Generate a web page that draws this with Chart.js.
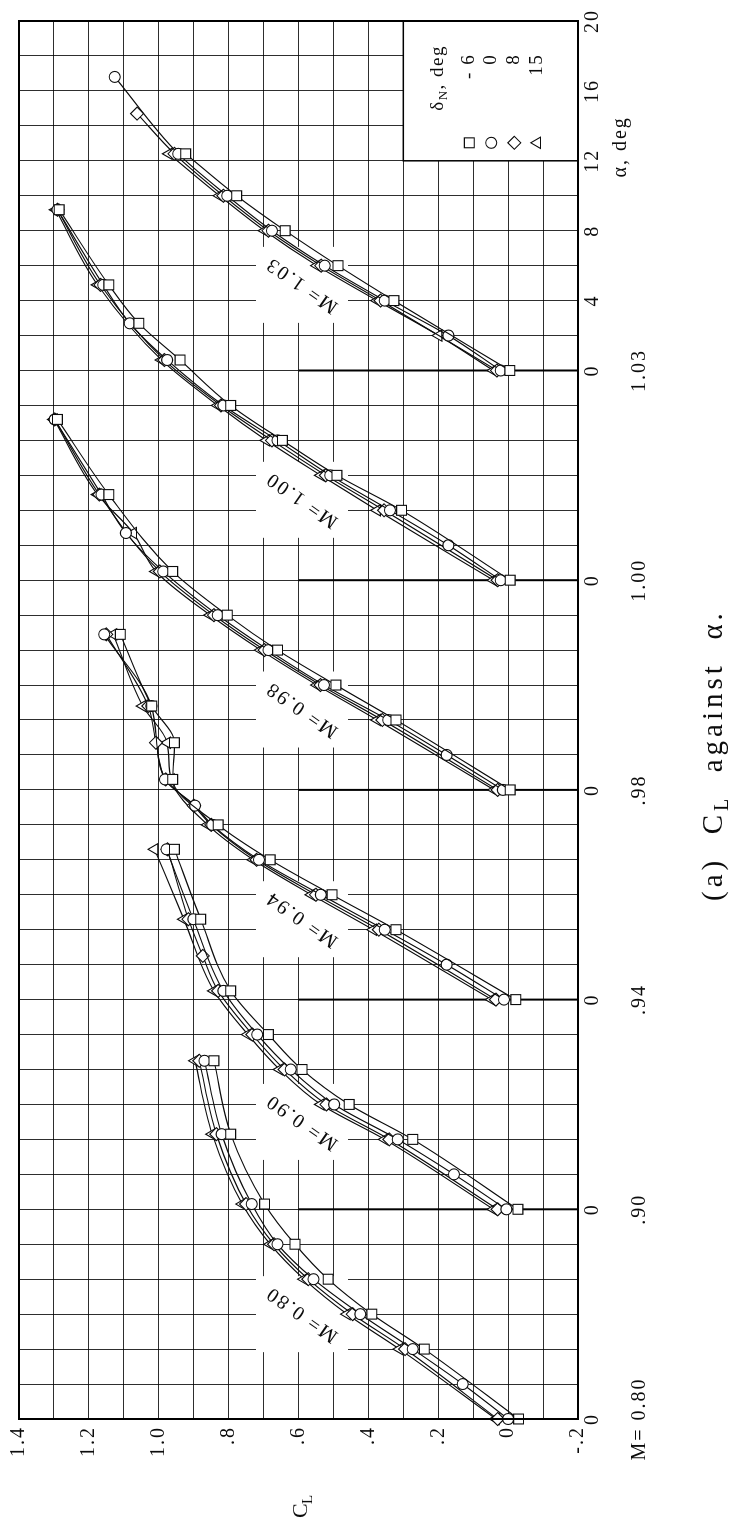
<!DOCTYPE html>
<html lang="en">
<head>
<meta charset="utf-8">
<title>(a) CL against alpha</title>
<script src="https://cdn.jsdelivr.net/npm/chart.js@4.4.1/dist/chart.umd.min.js"></script>
<style>
  html, body { margin:0; padding:0; background:#fff; width:733px; height:1521px; overflow:hidden; }
  #rot { position:absolute; left:0; top:0; width:1521px; height:733px; transform-origin:0 0; transform:translateY(1521px) rotate(-90deg); background:#fff; }
  #chart { display:block; width:1521px; height:733px; }
</style>
</head>
<body>
<div id="rot"><canvas id="chart" width="1521" height="733"></canvas></div>
<script>
// ---------------- data (alpha in deg, CL) ----------------
const machAxisLabels  = ["M= 0.80", ".90", ".94", ".98", "1.00", "1.03"];
const machCurveLabels = ["M= 0.80", "M= 0.90", "M= 0.94", "M= 0.98", "M= 1.00", "M= 1.03"];
const alphaOrigins    = [0, 12, 24, 36, 48, 60];     // staggered alpha = 0 origins on the shared axis
const alphaExtraTicks = [4, 8, 12, 16, 20];          // alpha ticks labelled for M = 1.03
const clTickValues    = [1.4, 1.2, 1.0, 0.8, 0.6, 0.4, 0.2, 0, -0.2];
const clTickLabels    = ["1.4", "1.2", "1.0", ".8", ".6", ".4", ".2", "0", "-.2"];
const deltaNLabels    = ["- 6", "0", "8", "15"];

// M = 0.80
const m080_dm6 = [[0,-0.03],[4,0.24],[6,0.39],[8,0.515],[10,0.61],[12.3,0.697],[16.3,0.794],[20.5,0.842]];
const m080_d0  = [[0,0.0],[2,0.13],[4,0.273],[6,0.423],[8,0.557],[10,0.66],[12.3,0.734],[16.3,0.82],[20.5,0.869]];
const m080_d8  = [[0,0.03],[4,0.295],[6,0.445],[8,0.572],[10,0.67],[12.3,0.75],[16.3,0.835],[20.5,0.884]];
const m080_d15 = [[0,0.035],[4,0.311],[6,0.461],[8,0.584],[10,0.681],[12.3,0.761],[16.3,0.847],[20.5,0.896]];
// M = 0.90
const m090_dm6 = [[0,-0.028],[4,0.273],[6,0.455],[8,0.59],[10,0.686],[12.5,0.794],[16.6,0.88],[20.6,0.955]];
const m090_d0  = [[0,0.005],[2,0.155],[4,0.316],[6,0.498],[8,0.622],[10,0.718],[12.5,0.815],[16.6,0.901],[20.6,0.978]];
const m090_d8  = [[0,0.03],[4,0.34],[6,0.52],[8,0.64],[10,0.732],[12.5,0.83],[14.5,0.874],[16.6,0.915],[20.6,0.975]];
const m090_d15 = [[0,0.042],[4,0.353],[6,0.536],[8,0.654],[10,0.745],[12.5,0.842],[16.6,0.928],[20.6,1.012]];
// M = 0.94
const m094_dm6 = [[0,-0.022],[4,0.321],[6,0.504],[8,0.681],[10,0.83],[12.6,0.96],[14.7,0.955],[16.8,1.02],[20.9,1.11]];
const m094_d0  = [[0,0.012],[2,0.176],[4,0.353],[6,0.536],[8,0.713],[10,0.847],[11.1,0.896],[12.6,0.982],[16.8,1.021],[20.9,1.156]];
const m094_d8  = [[0,0.035],[4,0.37],[6,0.55],[8,0.72],[10,0.85],[11.1,0.9],[12.6,0.98],[14.7,1.008],[16.8,1.03],[20.9,1.15]];
const m094_d15 = [[0,0.047],[4,0.386],[6,0.563],[8,0.729],[10,0.86],[12.6,0.965],[14.7,0.976],[16.8,1.046],[20.9,1.13]];
// M = 0.98
const m098_dm6 = [[0,-0.006],[4,0.321],[6,0.493],[8,0.66],[10,0.804],[12.5,0.96],[16.9,1.143],[21.2,1.29]];
const m098_d0  = [[0,0.015],[2,0.176],[4,0.343],[6,0.527],[8,0.686],[10,0.831],[12.5,0.987],[14.7,1.094],[16.9,1.164],[21.2,1.298]];
const m098_d8  = [[0,0.03],[4,0.36],[6,0.537],[8,0.697],[10,0.842],[12.5,0.997],[16.9,1.17],[21.2,1.298]];
const m098_d15 = [[0,0.04],[4,0.375],[6,0.547],[8,0.708],[10,0.853],[12.5,1.008],[14.7,1.073],[16.9,1.175],[21.2,1.3]];
// M = 1.00
const m100_dm6 = [[0,-0.006],[4,0.305],[6,0.49],[8,0.646],[10,0.794],[12.6,0.939],[14.7,1.057],[16.9,1.143],[21.2,1.285]];
const m100_d0  = [[0,0.021],[2,0.171],[4,0.338],[6,0.509],[8,0.66],[10,0.815],[12.6,0.976],[14.7,1.083],[16.9,1.159],[21.2,1.29]];
const m100_d8  = [[0,0.03],[4,0.355],[6,0.522],[8,0.676],[10,0.822],[12.6,0.984],[16.9,1.167],[21.2,1.29]];
const m100_d15 = [[0,0.042],[4,0.375],[6,0.536],[8,0.692],[10,0.831],[12.6,0.992],[16.9,1.175],[21.2,1.295]];
// M = 1.03
const m103_dm6 = [[0,-0.005],[4,0.327],[6,0.487],[8,0.638],[10,0.777],[12.4,0.923]];
const m103_d0  = [[0,0.021],[2,0.171],[4,0.353],[6,0.525],[8,0.676],[10,0.804],[12.4,0.944],[16.8,1.126]];
const m103_d8  = [[0,0.032],[4,0.365],[6,0.535],[8,0.686],[10,0.815],[12.4,0.955],[14.7,1.062]];
const m103_d15 = [[0,0.042],[2,0.199],[4,0.375],[6,0.547],[8,0.697],[10,0.826],[12.4,0.971]];

const seriesByMach = [
  [m080_dm6, m080_d0, m080_d8, m080_d15],
  [m090_dm6, m090_d0, m090_d8, m090_d15],
  [m094_dm6, m094_d0, m094_d8, m094_d15],
  [m098_dm6, m098_d0, m098_d8, m098_d15],
  [m100_dm6, m100_d0, m100_d8, m100_d15],
  [m103_dm6, m103_d0, m103_d8, m103_d15]
];

// ---------------- styles ----------------
const FONT = '"Liberation Serif", "DejaVu Serif", serif';
const INK = '#0c0c0c';
const GRID = 'rgba(0,0,0,0.82)';
const pointStyles = ['rect', 'circle', 'rectRot', 'triangle'];
const pointRadii  = [7, 5.5, 6.5, 6.5];
const curveLabelAlpha = [6.0, 5.0, 4.6, 4.6, 4.6, 4.9];
const curveLabelCL = 0.59;

const datasets = [];
seriesByMach.forEach((group, mi) => {
  group.forEach((pts, di) => {
    datasets.push({
      label: machCurveLabels[mi] + ' dN=' + deltaNLabels[di],
      data: pts.map(p => ({ x: p[0] + alphaOrigins[mi], y: p[1] })),
      showLine: true,
      borderColor: INK,
      borderWidth: 1.15,
      cubicInterpolationMode: 'monotone',
      pointStyle: pointStyles[di],
      pointRadius: pointRadii[di],
      pointBorderWidth: 1.1,
      pointBorderColor: INK,
      pointBackgroundColor: '#fff',
      clip: false
    });
  });
});

const alphaTickMap = new Map();
alphaOrigins.forEach(o => alphaTickMap.set(o, '0'));
alphaExtraTicks.forEach(a => alphaTickMap.set(alphaOrigins[5] + a, String(a)));

function spaced(ctx, px) { if ('letterSpacing' in ctx) ctx.letterSpacing = px + 'px'; }

const decor = {
  id: 'decor',
  beforeDraw(chart) {
    spaced(chart.ctx, 2);   // typewriter-like spacing for axis tick labels
  },
  beforeDatasetsDraw(chart) {
    const { ctx, chartArea: ca, scales: { x, y } } = chart;
    ctx.save();
    // heavier alpha = 0 reference lines
    ctx.strokeStyle = '#000';
    ctx.lineWidth = 2;
    alphaOrigins.forEach(o => {
      if (o === 0) return;
      const px = x.getPixelForValue(o);
      ctx.beginPath();
      ctx.moveTo(px, y.getPixelForValue(0.6));
      ctx.lineTo(px, ca.bottom);
      ctx.stroke();
    });
    // curve labels on white patches
    ctx.font = '20px ' + FONT;
    spaced(ctx, 2);
    machCurveLabels.forEach((t, i) => {
      const cx = x.getPixelForValue(alphaOrigins[i] + curveLabelAlpha[i]);
      const cy = y.getPixelForValue(curveLabelCL);
      ctx.fillStyle = '#fff';
      ctx.fillRect(cx - 38, cy - 46, 76, 92);
      ctx.save();
      ctx.translate(cx, cy);
      ctx.rotate(-55 * Math.PI / 180);
      ctx.fillStyle = INK;
      ctx.textAlign = 'center';
      ctx.textBaseline = 'middle';
      ctx.fillText(t, 0, 0);
      ctx.restore();
    });
    // legend box
    const bx0 = x.getPixelForValue(72), by0 = y.getPixelForValue(0.3);
    const bx1 = ca.right, by1 = ca.bottom;
    ctx.fillStyle = '#fff';
    ctx.fillRect(bx0, by0, bx1 - bx0, by1 - by0);
    ctx.strokeStyle = '#000';
    ctx.lineWidth = 1.5;
    ctx.strokeRect(bx0, by0, bx1 - bx0, by1 - by0);
    ctx.fillStyle = INK;
    ctx.textBaseline = 'middle';
    ctx.textAlign = 'left';
    spaced(ctx, 1.5);
    ctx.font = '19px ' + FONT;
    let hx = bx0 + 50;
    const hy = by0 + 35;
    ctx.fillText('δ', hx, hy); hx += ctx.measureText('δ').width;
    ctx.font = '13px ' + FONT;
    ctx.fillText('N', hx, hy + 5); hx += ctx.measureText('N').width;
    ctx.font = '19px ' + FONT;
    ctx.fillText(', deg', hx, hy);
    const rows = [66, 88, 111, 134];
    deltaNLabels.forEach((t, i) => {
      const ry = by0 + rows[i];
      ctx.textAlign = 'right';
      ctx.fillStyle = INK;
      ctx.fillText(t, bx0 + 107, ry);
      ctx.fillStyle = '#fff';
      ctx.strokeStyle = INK;
      ctx.lineWidth = 1.1;
      Chart.helpers.drawPoint(ctx, { pointStyle: pointStyles[i], radius: pointRadii[i], rotation: 0, borderWidth: 1.1 }, bx0 + 18, ry);
    });
    ctx.restore();
  },
  afterDatasetsDraw(chart) {
    const { ctx, chartArea: ca } = chart;
    ctx.save();
    ctx.strokeStyle = '#000';
    ctx.lineWidth = 2;
    ctx.strokeRect(ca.left, ca.top, ca.right - ca.left, ca.bottom - ca.top);
    ctx.restore();
  },
  afterDraw(chart) {
    const { ctx, chartArea: ca, scales: { x } } = chart;
    ctx.save();
    ctx.fillStyle = INK;
    ctx.font = '20px ' + FONT;
    spaced(ctx, 2);
    ctx.textAlign = 'center';
    ctx.textBaseline = 'middle';
    machAxisLabels.forEach((t, i) => ctx.fillText(t, x.getPixelForValue(alphaOrigins[i]), ca.bottom + 62));
    ctx.fillText('α, deg', x.getPixelForValue(alphaOrigins[5] + 12.8), ca.bottom + 43);
    // CL axis title
    ctx.textAlign = 'left';
    ctx.textBaseline = 'alphabetic';
    ctx.font = '22px ' + FONT;
    ctx.fillText('C', 3, 307);
    ctx.font = '15px ' + FONT;
    ctx.fillText('L', 17, 312);
    // caption
    spaced(ctx, 4);
    let cx = 620;
    const cy = 722;
    ctx.font = '29px ' + FONT;
    const sp = ctx.measureText(' ').width;
    ctx.fillText('(a)', cx, cy); cx += ctx.measureText('(a)').width + 2 * sp;
    ctx.fillText('C', cx, cy); cx += ctx.measureText('C').width;
    ctx.font = '20px ' + FONT;
    ctx.fillText('L', cx, cy + 6); cx += ctx.measureText('L').width + 2 * sp;
    ctx.font = '29px ' + FONT;
    ctx.fillText('against', cx, cy); cx += ctx.measureText('against').width + 2 * sp;
    ctx.fillText('α.', cx, cy);
    ctx.restore();
  }
};

new Chart(document.getElementById('chart'), {
  type: 'scatter',
  data: { datasets },
  options: {
    responsive: false,
    devicePixelRatio: 1,
    animation: false,
    events: [],
    layout: { padding: { left: 0, right: 21, top: 17, bottom: 0 } },
    plugins: { legend: { display: false }, tooltip: { enabled: false } },
    scales: {
      x: {
        type: 'linear', min: 0, max: 80,
        afterFit: s => { s.height = 155; },
        afterBuildTicks: s => { const t = []; for (let v = 0; v <= 80; v += 2) t.push({ value: v }); s.ticks = t; },
        ticks: {
          autoSkip: false, maxRotation: 0, minRotation: 0, padding: 3, color: INK,
          font: { family: FONT, size: 20 },
          callback: v => alphaTickMap.has(Math.round(v)) ? alphaTickMap.get(Math.round(v)) : ''
        },
        grid: { color: GRID, lineWidth: c => (c.tick && (c.tick.value === 0 || c.tick.value === 80)) ? 2 : 1, drawTicks: false },
        border: { display: false }
      },
      y: {
        type: 'linear', min: -0.2, max: 1.4,
        afterFit: s => { s.width = 102; },
        afterBuildTicks: s => { const t = []; for (let i = -2; i <= 14; i++) t.push({ value: i / 10 }); s.ticks = t; },
        ticks: {
          autoSkip: false, padding: 7, color: INK,
          font: { family: FONT, size: 20 },
          callback: v => { const i = clTickValues.findIndex(c => Math.abs(c - v) < 1e-6); return i >= 0 ? clTickLabels[i] : ''; }
        },
        grid: { color: GRID, lineWidth: c => (c.tick && (Math.abs(c.tick.value - 1.4) < 1e-6 || Math.abs(c.tick.value + 0.2) < 1e-6)) ? 2 : 1, drawTicks: false },
        border: { display: false }
      }
    }
  },
  plugins: [decor]
});
</script>
</body>
</html>
